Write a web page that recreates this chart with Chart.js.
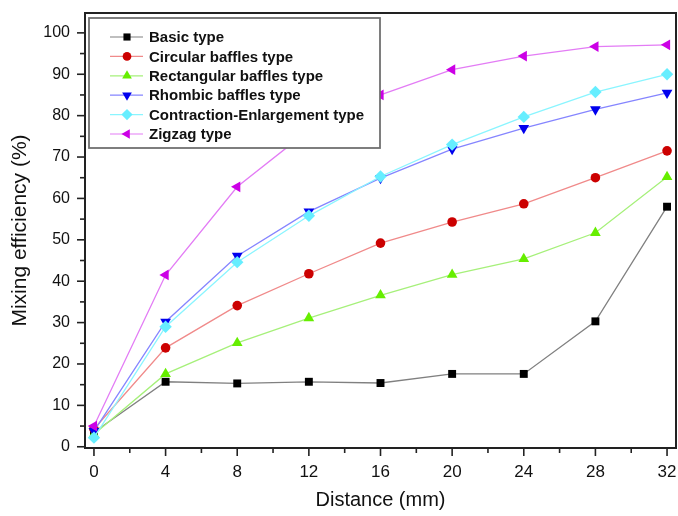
<!DOCTYPE html>
<html>
  <head>
    <script src="https://cdn.jsdelivr.net/npm/chart.js"></script>
    <style>
      body { margin: 0; background: white; }
    </style>
  </head>

  <body>
    <canvas id="mixing" width="678" height="516"></canvas>
  </body>

  <script>
    // distances along the channel (mm)
    var distance = [0, 4, 8, 12, 16, 20, 24, 28, 32];

    var basic = [3.5, 15.7, 15.3, 15.7, 15.4, 17.6, 17.6, 30.3, 58.0];
    var circular = [4.3, 23.9, 34.1, 41.8, 49.2, 54.3, 58.7, 65.0, 71.5];
    var rectangular = [3.0, 17.6, 25.1, 31.1, 36.6, 41.6, 45.4, 51.7, 65.2];
    var rhombic = [3.8, 30.2, 46.1, 56.8, 64.9, 71.9, 77.0, 81.5, 85.5];
    var contraction = [2.2, 29.0, 44.6, 55.8, 65.3, 73.0, 79.7, 85.7, 90.0];
    var zigzag = [5.0, 41.5, 62.8, 76.5, 85.0, 91.1, 94.4, 96.7, 97.1];

    var series_names = [
      "Basic type",
      "Circular baffles type",
      "Rectangular baffles type",
      "Rhombic baffles type",
      "Contraction-Enlargement type",
      "Zigzag type",
    ];

    var x_ticks = [0, 4, 8, 12, 16, 20, 24, 28, 32];
    var y_ticks = [0, 10, 20, 30, 40, 50, 60, 70, 80, 90, 100];

    var line_colours = ["#808080", "#f08a8a", "#a6f07a", "#8585ff", "#8af5ff", "#e37cf5"];
    var marker_colours = ["#000000", "#cc0000", "#66ee00", "#0000ee", "#66eeff", "#cc00e6"];
    var marker_styles = ["rect", "circle", "triangle", "triangle", "rectRot", "triangle"];
    var marker_rotation = [0, 0, 0, 180, 0, -90];
    var marker_radius = [5.6, 4.8, 6.2, 6.2, 6.2, 6.2];

    var values = [basic, circular, rectangular, rhombic, contraction, zigzag];

    var font_family = "'Liberation Sans', Arial, sans-serif";

    var sets = [];
    for (let i = 0; i < values.length; i++) {
      sets.push({
        label: series_names[i],
        data: distance.map((d, j) => ({ x: d, y: values[i][j] })),
        showLine: true,
        borderColor: line_colours[i],
        borderWidth: 1.3,
        pointStyle: marker_styles[i],
        pointRotation: marker_rotation[i],
        pointRadius: marker_radius[i],
        pointBackgroundColor: marker_colours[i],
        pointBorderColor: marker_colours[i],
        pointBorderWidth: 0,
        order: 6 - i,
      });
    }

    // frame, tick marks and the boxed legend
    const decorations = {
      id: "decorations",
      afterDatasetsDraw(chart) {
        const ctx = chart.ctx;
        const a = chart.chartArea;
        const xs = chart.scales.x;
        const ys = chart.scales.y;
        ctx.save();
        ctx.strokeStyle = "#222";
        ctx.lineWidth = 1.6;
        for (let v = 0; v <= 32; v += 2) {
          const px = xs.getPixelForValue(v);
          const len = v % 4 === 0 ? 8 : 5;
          ctx.beginPath();
          ctx.moveTo(px, a.bottom);
          ctx.lineTo(px, a.bottom + len);
          ctx.stroke();
        }
        for (let v = 0; v <= 100; v += 5) {
          const py = ys.getPixelForValue(v);
          const len = v % 10 === 0 ? 8 : 5;
          ctx.beginPath();
          ctx.moveTo(a.left, py);
          ctx.lineTo(a.left - len, py);
          ctx.stroke();
        }
        ctx.lineWidth = 2;
        ctx.strokeRect(a.left, a.top, a.right - a.left, a.bottom - a.top);

        // legend box
        const lx = 89, ly = 18, lw = 291, lh = 130;
        ctx.fillStyle = "white";
        ctx.fillRect(lx, ly, lw, lh);
        ctx.strokeStyle = "#707070";
        ctx.lineWidth = 1.8;
        ctx.strokeRect(lx, ly, lw, lh);
        ctx.font = "bold 15px " + font_family;
        ctx.textBaseline = "middle";
        ctx.textAlign = "left";
        chart.data.datasets.forEach((ds, i) => {
          const cy = 37 + i * 19.4;
          ctx.strokeStyle = ds.borderColor;
          ctx.lineWidth = 1.2;
          ctx.beginPath();
          ctx.moveTo(110, cy);
          ctx.lineTo(143, cy);
          ctx.stroke();
          ctx.fillStyle = ds.pointBackgroundColor;
          ctx.strokeStyle = ds.pointBorderColor;
          Chart.helpers.drawPoint(
            ctx,
            { pointStyle: ds.pointStyle, rotation: ds.pointRotation, radius: ds.pointRadius * 0.9, borderWidth: 0 },
            127,
            cy
          );
          ctx.fillStyle = "#111";
          ctx.fillText(ds.label, 149, cy + 1);
        });
        ctx.restore();
      },
    };

    const ctx = document.getElementById("mixing").getContext("2d");

    const chart = new Chart(ctx, {
      type: "scatter",
      data: { datasets: sets },
      options: {
        responsive: false,
        animation: false,
        layout: { autoPadding: false, padding: { top: 13, right: 2, left: 0, bottom: 0 } },
        plugins: {
          legend: { display: false },
          tooltip: { enabled: false },
        },
        scales: {
          x: {
            type: "linear",
            min: -0.5,
            max: 32.5,
            afterBuildTicks: (s) => {
              s.ticks = x_ticks.map((v) => ({ value: v }));
            },
            afterFit: (s) => {
              s.height = 68;
              s.paddingLeft = 0;
              s.paddingRight = 0;
            },
            grid: { display: false, drawTicks: false },
            border: { display: false },
            ticks: {
              padding: 14,
              color: "#111",
              font: { family: font_family, size: 17 },
            },
            title: {
              display: true,
              text: "Distance (mm)",
              color: "#111",
              padding: { top: 6 },
              font: { family: font_family, size: 20 },
            },
          },
          y: {
            min: -0.3,
            max: 104.8,
            afterBuildTicks: (s) => {
              s.ticks = y_ticks.map((v) => ({ value: v }));
            },
            afterFit: (s) => {
              s.width = 85;
              s.paddingTop = 0;
              s.paddingBottom = 0;
            },
            grid: { display: false, drawTicks: false },
            border: { display: false },
            ticks: {
              padding: 15,
              color: "#111",
              font: { family: font_family, size: 16 },
            },
            title: {
              display: true,
              text: "Mixing efficiency (%)",
              color: "#111",
              padding: { top: 8, bottom: 4 },
              font: { family: font_family, size: 21 },
            },
          },
        },
      },
      plugins: [decorations],
    });
  </script>
</html>
